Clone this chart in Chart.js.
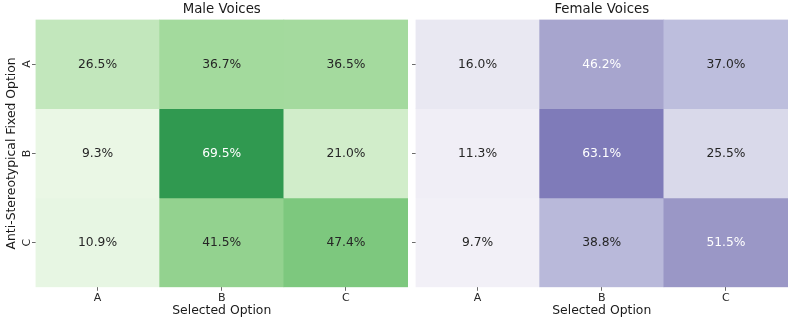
<!DOCTYPE html>
<html><head><meta charset="utf-8">
<script src="https://cdn.jsdelivr.net/npm/chart.js@4.4.1/dist/chart.umd.min.js"></script>
<style>
html,body{margin:0;padding:0;background:#fff;width:793px;height:323px;overflow:hidden;}
.wrap{position:absolute;top:0;height:323px;}
</style></head><body>
<div class="wrap" id="w1" style="left:0;width:408px;"><canvas id="c1"></canvas></div>
<div class="wrap" id="w2" style="left:408px;width:385px;"><canvas id="c2"></canvas></div>
<script>
const selectedOptions = ['A', 'B', 'C'];
const fixedOptions = ['A', 'B', 'C'];
const maleValues = [
  [26.5, 36.7, 36.5],
  [9.3, 69.5, 21.0],
  [10.9, 41.5, 47.4]
];
const femaleValues = [
  [16.0, 46.2, 37.0],
  [11.3, 63.1, 25.5],
  [9.7, 38.8, 51.5]
];
const panelTitles = ['Male Voices', 'Female Voices'];
const xTitle = 'Selected Option';
const yTitle = 'Anti-Stereotypical Fixed Option';

const GREENS = ['#f7fcf5','#e5f5e0','#c7e9c0','#a1d99b','#74c476','#41ab5d','#238b45','#006d2c','#00441b'];
const PURPLES = ['#fcfbfd','#efedf5','#dadaeb','#bcbddc','#9e9ac8','#807dba','#6a51a3','#54278f','#3f007d'];
const FONT = "'DejaVu Sans', sans-serif";

function hex2rgb(h){return [parseInt(h.slice(1,3),16),parseInt(h.slice(3,5),16),parseInt(h.slice(5,7),16)];}
function cmap(stops, v){
  const t = Math.max(0, Math.min(1, v/100));
  const pos = t*(stops.length-1);
  const i = Math.min(stops.length-2, Math.floor(pos));
  const f = pos - i;
  const a = hex2rgb(stops[i]), b = hex2rgb(stops[i+1]);
  return a.map((c,k)=>Math.round(c+(b[k]-c)*f));
}
function lum(rgb){
  const l = rgb.map(c=>{c/=255;return c<=0.03928?c/12.92:Math.pow((c+0.055)/1.055,2.4);});
  return 0.2126*l[0]+0.7152*l[1]+0.0722*l[2];
}

const cellLabels = {
  id:'cellLabels',
  afterDatasetsDraw(chart){
    const ctx = chart.ctx;
    ctx.save();
    ctx.font = "12.3px " + FONT;
    ctx.textAlign = 'center';
    ctx.textBaseline = 'middle';
    chart.data.datasets.forEach((ds, di)=>{
      const meta = chart.getDatasetMeta(di);
      meta.data.forEach((bar, i)=>{
        const v = ds.raw[i];
        const rgb = cmap(ds.stops, v);
        ctx.fillStyle = lum(rgb) > 0.408 ? '#262626' : '#ffffff';
        const cy = (bar.y + bar.base)/2;
        ctx.fillText(v.toFixed(1) + '%', bar.x, cy + 0.3);
      });
    });
    ctx.restore();
  }
};

const yTickLabels = {
  id:'yTickLabels',
  afterDraw(chart){
    if (!chart.options.plugins.yTickLabels || !chart.options.plugins.yTickLabels.show) return;
    const ys = chart.scales.y;
    const ctx = chart.ctx;
    ctx.save();
    ctx.font = "11px " + FONT;
    ctx.fillStyle = '#262626';
    ctx.textAlign = 'center';
    ctx.textBaseline = 'middle';
    fixedOptions.forEach((lab, r)=>{
      const py = ys.getPixelForValue(r + 0.5);
      ctx.save();
      ctx.translate(ys.right - 8, py);
      ctx.rotate(-Math.PI/2);
      ctx.fillText(lab, 0, 0);
      ctx.restore();
    });
    ctx.restore();
  }
};

function makeChart(canvasId, values, stops, title, showY, yWidth, padRight){
  const datasets = values.map((row, r)=>({
    data: row.map(()=>[r, r+1]),
    raw: row,
    stops: stops,
    backgroundColor: row.map(v=>{const c=cmap(stops,v);return 'rgb('+c.join(',')+')';}),
    borderWidth: 0,
    barPercentage: 1,
    categoryPercentage: 1,
    grouped: false
  }));
  return new Chart(document.getElementById(canvasId), {
    type:'bar',
    data:{labels: selectedOptions, datasets},
    plugins:[cellLabels, yTickLabels],
    options:{
      responsive:true, maintainAspectRatio:false, animation:false,
      devicePixelRatio:1,
      layout:{padding:{left:0,right:padRight,top:0,bottom:0}},
      plugins:{
        legend:{display:false}, tooltip:{enabled:false},
        title:{display:true, text:title, fullSize:false, color:'#1a1a1a',
          font:{family:FONT, size:13.3, weight:'normal', lineHeight:1.2},
          padding:{top:2,bottom:1.5}},
        yTickLabels:{show:showY}
      },
      scales:{
        x:{
          type:'category',
          grid:{display:true, drawOnChartArea:false, drawTicks:true, tickLength:3.5, offset:false, color:'#444', lineWidth:0.8},
          border:{display:false},
          ticks:{color:'#262626', font:{family:FONT, size:11}, padding:1, maxRotation:0},
          title:{display:true, text:xTitle, color:'#1a1a1a', font:{family:FONT, size:12.4, lineHeight:1.2}, padding:{top:0,bottom:4.6}},
          afterFit(s){ s.height = 35.7; }
        },
        y:{
          type:'linear', min:0, max:3, reverse:true,
          afterBuildTicks(s){ s.ticks = fixedOptions.map((_,r)=>({value:r+0.5})); },
          grid:{display:true, drawOnChartArea:false, drawTicks:true, tickLength:3.5, color:'#444', lineWidth:0.8},
          border:{display:false},
          ticks:{display:false},
          title:{display:showY, text:yTitle, color:'#1a1a1a', font:{family:FONT, size:12.4, lineHeight:1.2}, padding:{top:4.6,bottom:0}},
          afterFit(s){ s.width = yWidth; }
        }
      }
    }
  });
}

makeChart('c1', maleValues, GREENS, panelTitles[0], true, 35.5, 0);
makeChart('c2', femaleValues, PURPLES, panelTitles[1], false, 7.5, 5);
</script>
</body></html>
